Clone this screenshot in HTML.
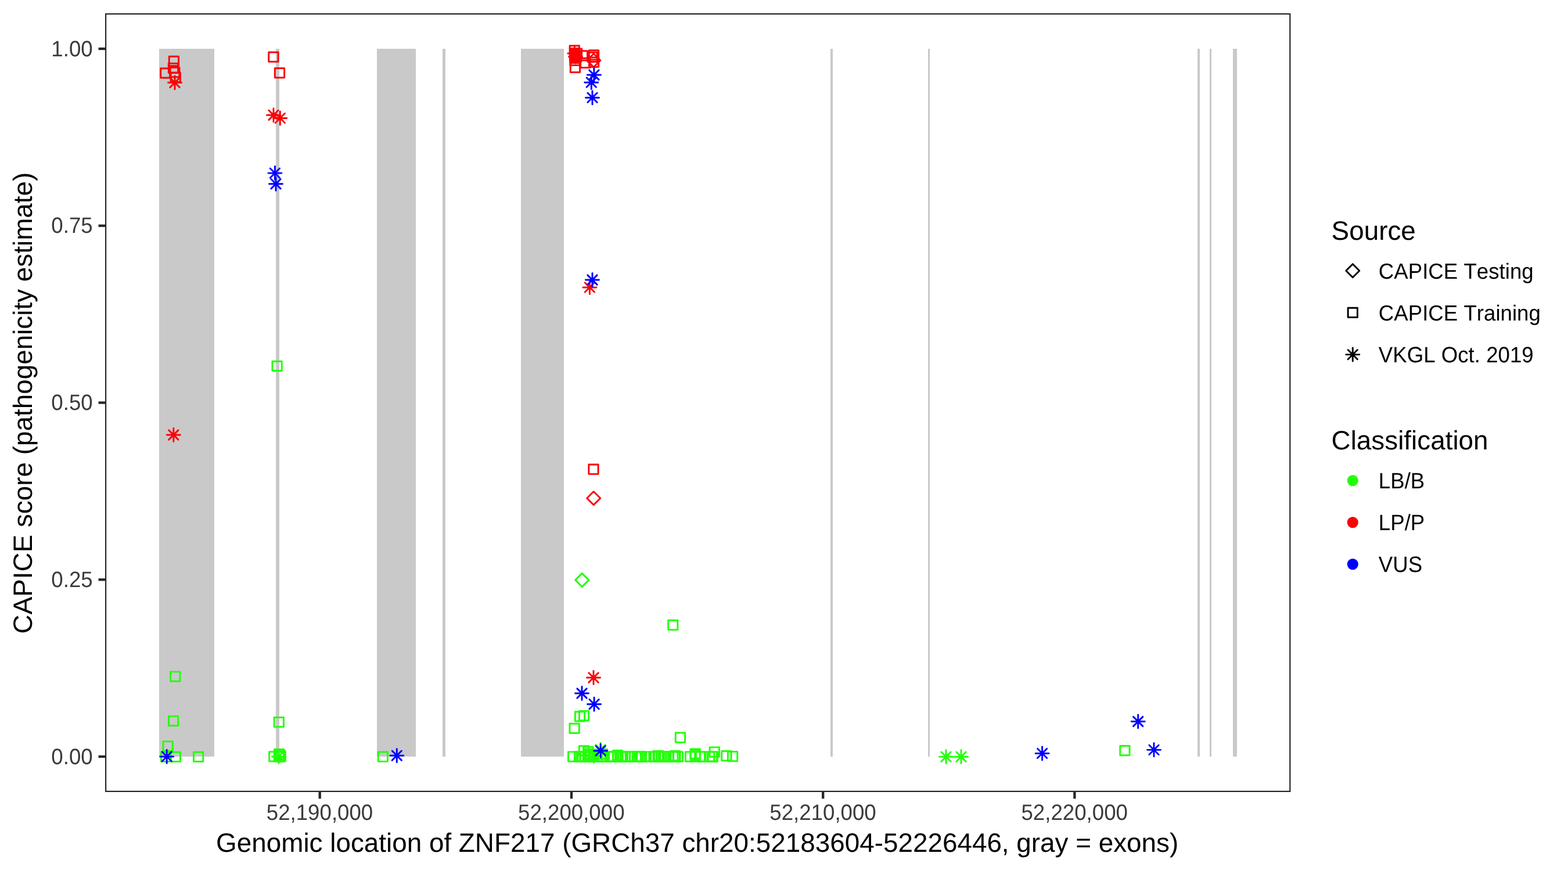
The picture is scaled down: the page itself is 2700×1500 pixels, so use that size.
<!DOCTYPE html>
<html lang="en"><head><meta charset="utf-8">
<title>CAPICE score by genomic location of ZNF217</title>
<style>
html,body{margin:0;padding:0;background:#fff;}
body{width:2700px;height:1500px;}
svg{display:block;}
text{font-family:"Liberation Sans",Arial,Helvetica,sans-serif;font-kerning:none;font-variant-ligatures:none;text-rendering:geometricPrecision;}
.tk{font-size:36.67px;fill:#3B3B3B;}
.ti{font-size:45.83px;fill:#000;}
.lg{font-size:36.67px;fill:#000;}
.pt{fill:none;stroke-width:2.95;stroke-linejoin:round;stroke-linecap:round;}
</style></head><body>
<svg width="2700" height="1500" viewBox="0 0 2700 1500">
<rect width="2700" height="1500" fill="#fff"/>
<g fill="#C9C9C9" shape-rendering="crispEdges">
<rect x="274" y="84" width="95" height="1219"/>
<rect x="475" y="84" width="6" height="1219"/>
<rect x="649" y="84" width="67" height="1219"/>
<rect x="762" y="84" width="5" height="1219"/>
<rect x="897" y="84" width="74" height="1219"/>
<rect x="1430" y="84" width="4" height="1219"/>
<rect x="1598" y="84" width="3" height="1219"/>
<rect x="2062" y="84" width="4" height="1219"/>
<rect x="2083" y="84" width="3" height="1219"/>
<rect x="2123" y="84" width="7" height="1219"/>
</g>
<g class="pt">
<rect x="293.66" y="1156.86" width="16.29" height="16.29" stroke="#23FF09"/>
<rect x="290.46" y="1233.36" width="16.29" height="16.29" stroke="#23FF09"/>
<rect x="280.96" y="1276.86" width="16.29" height="16.29" stroke="#23FF09"/>
<rect x="277.46" y="1295.26" width="16.29" height="16.29" stroke="#23FF09"/>
<rect x="294.16" y="1295.26" width="16.29" height="16.29" stroke="#23FF09"/>
<rect x="333.46" y="1295.26" width="16.29" height="16.29" stroke="#23FF09"/>
<rect x="276.75" y="117.76" width="16.29" height="16.29" stroke="#FB0207"/>
<rect x="291.25" y="97.26" width="16.29" height="16.29" stroke="#FB0207"/>
<rect x="290.36" y="109.16" width="16.29" height="16.29" stroke="#FB0207"/>
<rect x="292.66" y="116.36" width="16.29" height="16.29" stroke="#FB0207"/>
<rect x="294.06" y="125.05" width="16.29" height="16.29" stroke="#FB0207"/>
<path d="M289.48 142.2H312.52M301 130.68V153.72M292.86 134.05L309.14 150.34M292.86 150.34L309.14 134.05" stroke="#FB0207"/>
<path d="M287.33 749H310.37M298.85 737.48V760.52M290.71 740.86L307 757.14M290.71 757.14L307 740.86" stroke="#FB0207"/>
<path d="M275.68 1302.9H298.72M287.2 1291.38V1314.42M279.06 1294.76L295.34 1311.05M279.06 1311.05L295.34 1294.76" stroke="#0000FF"/>
<rect x="462.75" y="89.95" width="16.29" height="16.29" stroke="#FB0207"/>
<rect x="473.36" y="117.45" width="16.29" height="16.29" stroke="#FB0207"/>
<path d="M459.48 198.2H482.52M471 186.68V209.72M462.86 190.05L479.14 206.34M462.86 206.34L479.14 190.05" stroke="#FB0207"/>
<path d="M470.78 203.4H493.82M482.3 191.88V214.92M474.16 195.25L490.44 211.55M474.16 211.55L490.44 195.25" stroke="#FB0207"/>
<path d="M461.88 298.1H484.92M473.4 286.58V309.62M465.25 289.96L481.54 306.25M465.25 306.25L481.54 289.96" stroke="#0000FF"/>
<path d="M463.48 316.7H486.52M475 305.18V328.22M466.86 308.56L483.14 324.84M466.86 324.84L483.14 308.56" stroke="#0000FF"/>
<rect x="468.96" y="622.15" width="16.29" height="16.29" stroke="#23FF09"/>
<rect x="472.16" y="1235.45" width="16.29" height="16.29" stroke="#23FF09"/>
<rect x="463.61" y="1294.65" width="16.29" height="16.29" stroke="#23FF09"/>
<rect x="472.25" y="1290.56" width="16.29" height="16.29" stroke="#23FF09"/>
<rect x="472.36" y="1294.65" width="16.29" height="16.29" stroke="#23FF09"/>
<rect x="472.86" y="1294.86" width="16.29" height="16.29" stroke="#23FF09"/>
<rect x="473.66" y="1294.45" width="16.29" height="16.29" stroke="#23FF09"/>
<rect x="474.96" y="1294.65" width="16.29" height="16.29" stroke="#23FF09"/>
<rect x="472.66" y="1292.45" width="16.29" height="16.29" stroke="#23FF09"/>
<rect x="474.25" y="1292.76" width="16.29" height="16.29" stroke="#23FF09"/>
<rect x="472.46" y="1291.45" width="16.29" height="16.29" stroke="#23FF09"/>
<rect x="474.56" y="1293.65" width="16.29" height="16.29" stroke="#23FF09"/>
<path d="M468.38 1302.9H491.42M479.9 1291.38V1314.42M471.75 1294.76L488.04 1311.05M471.75 1311.05L488.04 1294.76" stroke="#23FF09"/>
<rect x="651.25" y="1295.06" width="16.29" height="16.29" stroke="#23FF09"/>
<path d="M671.78 1301.2H694.82M683.3 1289.68V1312.72M675.15 1293.06L691.44 1309.35M675.15 1309.35L691.44 1293.06" stroke="#0000FF"/>
<rect x="981.15" y="78.81" width="16.29" height="16.29" stroke="#FB0207"/>
<rect x="981.36" y="83.42" width="16.29" height="16.29" stroke="#FB0207"/>
<rect x="981.56" y="86.16" width="16.29" height="16.29" stroke="#FB0207"/>
<rect x="981.75" y="88.86" width="16.29" height="16.29" stroke="#FB0207"/>
<rect x="981.86" y="92.06" width="16.29" height="16.29" stroke="#FB0207"/>
<rect x="981.96" y="96.06" width="16.29" height="16.29" stroke="#FB0207"/>
<rect x="985.36" y="83.86" width="16.29" height="16.29" stroke="#FB0207"/>
<rect x="984.36" y="89.86" width="16.29" height="16.29" stroke="#FB0207"/>
<rect x="982.25" y="108.2" width="16.29" height="16.29" stroke="#FB0207"/>
<path d="M977.88 92H1000.92M989.4 80.48V103.52M981.25 83.86L997.54 100.14M981.25 100.14L997.54 83.86" stroke="#FB0207"/>
<path d="M979.48 97.7H1002.52M991 86.18V109.22M982.86 89.56L999.14 105.84M982.86 105.84L999.14 89.56" stroke="#FB0207"/>
<rect x="995.25" y="87.66" width="16.29" height="16.29" stroke="#FB0207"/>
<rect x="999.65" y="100.26" width="16.29" height="16.29" stroke="#FB0207"/>
<rect x="1014.46" y="86.76" width="16.29" height="16.29" stroke="#FB0207"/>
<rect x="1011.96" y="90.16" width="16.29" height="16.29" stroke="#FB0207"/>
<rect x="1014.46" y="98.95" width="16.29" height="16.29" stroke="#FB0207"/>
<path d="M1010.78 104L1022.3 92.48L1033.82 104L1022.3 115.52Z" stroke="#FB0207"/>
<path d="M1011.38 129H1034.42M1022.9 117.48V140.52M1014.75 120.86L1031.05 137.15M1014.75 137.15L1031.05 120.86" stroke="#0000FF"/>
<path d="M1006.78 141.9H1029.82M1018.3 130.38V153.42M1010.15 133.75L1026.44 150.05M1010.15 150.05L1026.44 133.75" stroke="#0000FF"/>
<path d="M1008.48 168.15H1031.52M1020 156.63V179.67M1011.86 160L1028.14 176.3M1011.86 176.3L1028.14 160" stroke="#0000FF"/>
<path d="M1003.88 494.9H1026.92M1015.4 483.38V506.42M1007.25 486.75L1023.54 503.04M1007.25 503.04L1023.54 486.75" stroke="#FB0207"/>
<path d="M1008.48 482H1031.52M1020 470.48V493.52M1011.86 473.86L1028.14 490.14M1011.86 490.14L1028.14 473.86" stroke="#0000FF"/>
<rect x="1013.86" y="800.06" width="16.29" height="16.29" stroke="#FB0207"/>
<path d="M1010.68 858L1022.2 846.48L1033.72 858L1022.2 869.52Z" stroke="#FB0207"/>
<path d="M990.68 998.9L1002.2 987.38L1013.72 998.9L1002.2 1010.42Z" stroke="#23FF09"/>
<rect x="1150.65" y="1068.31" width="16.29" height="16.29" stroke="#23FF09"/>
<path d="M1010.48 1167H1033.52M1022 1155.48V1178.52M1013.86 1158.86L1030.14 1175.14M1013.86 1175.14L1030.14 1158.86" stroke="#FB0207"/>
<path d="M990.48 1194H1013.52M1002 1182.48V1205.52M993.86 1185.86L1010.14 1202.14M993.86 1202.14L1010.14 1185.86" stroke="#0000FF"/>
<path d="M1011.58 1212.7H1034.62M1023.1 1201.18V1224.22M1014.96 1204.56L1031.25 1220.85M1014.96 1220.85L1031.25 1204.56" stroke="#0000FF"/>
<rect x="990.36" y="1225.65" width="16.29" height="16.29" stroke="#23FF09"/>
<rect x="997.36" y="1224.36" width="16.29" height="16.29" stroke="#23FF09"/>
<rect x="980.96" y="1246.2" width="16.29" height="16.29" stroke="#23FF09"/>
<rect x="978.48" y="1294.86" width="16.29" height="16.29" stroke="#23FF09"/>
<rect x="989.43" y="1294.86" width="16.29" height="16.29" stroke="#23FF09"/>
<rect x="989.88" y="1294.86" width="16.29" height="16.29" stroke="#23FF09"/>
<rect x="993.02" y="1294.86" width="16.29" height="16.29" stroke="#23FF09"/>
<rect x="998.88" y="1294.86" width="16.29" height="16.29" stroke="#23FF09"/>
<rect x="999.12" y="1294.86" width="16.29" height="16.29" stroke="#23FF09"/>
<rect x="1004.27" y="1294.86" width="16.29" height="16.29" stroke="#23FF09"/>
<rect x="1007.23" y="1294.86" width="16.29" height="16.29" stroke="#23FF09"/>
<rect x="1013.38" y="1294.86" width="16.29" height="16.29" stroke="#23FF09"/>
<rect x="1020.08" y="1294.86" width="16.29" height="16.29" stroke="#23FF09"/>
<rect x="1020.17" y="1294.86" width="16.29" height="16.29" stroke="#23FF09"/>
<rect x="1025.88" y="1294.86" width="16.29" height="16.29" stroke="#23FF09"/>
<rect x="1026.47" y="1294.86" width="16.29" height="16.29" stroke="#23FF09"/>
<rect x="1029.42" y="1294.86" width="16.29" height="16.29" stroke="#23FF09"/>
<rect x="1030.12" y="1294.86" width="16.29" height="16.29" stroke="#23FF09"/>
<rect x="1043.12" y="1294.86" width="16.29" height="16.29" stroke="#23FF09"/>
<rect x="1048.28" y="1294.86" width="16.29" height="16.29" stroke="#23FF09"/>
<rect x="1048.58" y="1294.86" width="16.29" height="16.29" stroke="#23FF09"/>
<rect x="1055.67" y="1294.86" width="16.29" height="16.29" stroke="#23FF09"/>
<rect x="1061.62" y="1294.86" width="16.29" height="16.29" stroke="#23FF09"/>
<rect x="1064.17" y="1294.86" width="16.29" height="16.29" stroke="#23FF09"/>
<rect x="1068.33" y="1294.86" width="16.29" height="16.29" stroke="#23FF09"/>
<rect x="1068.47" y="1294.86" width="16.29" height="16.29" stroke="#23FF09"/>
<rect x="1077.17" y="1294.86" width="16.29" height="16.29" stroke="#23FF09"/>
<rect x="1080.38" y="1294.86" width="16.29" height="16.29" stroke="#23FF09"/>
<rect x="1089.42" y="1294.86" width="16.29" height="16.29" stroke="#23FF09"/>
<rect x="1092.38" y="1294.86" width="16.29" height="16.29" stroke="#23FF09"/>
<rect x="1095.33" y="1294.86" width="16.29" height="16.29" stroke="#23FF09"/>
<rect x="1096.17" y="1294.86" width="16.29" height="16.29" stroke="#23FF09"/>
<rect x="1103.28" y="1294.86" width="16.29" height="16.29" stroke="#23FF09"/>
<rect x="1117.83" y="1294.86" width="16.29" height="16.29" stroke="#23FF09"/>
<rect x="1120.38" y="1294.86" width="16.29" height="16.29" stroke="#23FF09"/>
<rect x="1125.33" y="1294.86" width="16.29" height="16.29" stroke="#23FF09"/>
<rect x="1126.53" y="1294.86" width="16.29" height="16.29" stroke="#23FF09"/>
<rect x="1130.62" y="1294.86" width="16.29" height="16.29" stroke="#23FF09"/>
<rect x="1130.67" y="1294.86" width="16.29" height="16.29" stroke="#23FF09"/>
<rect x="1136.83" y="1294.86" width="16.29" height="16.29" stroke="#23FF09"/>
<rect x="1142.88" y="1294.86" width="16.29" height="16.29" stroke="#23FF09"/>
<rect x="1143.28" y="1294.86" width="16.29" height="16.29" stroke="#23FF09"/>
<rect x="1150.72" y="1294.86" width="16.29" height="16.29" stroke="#23FF09"/>
<rect x="1153.88" y="1294.86" width="16.29" height="16.29" stroke="#23FF09"/>
<rect x="1154.38" y="1294.86" width="16.29" height="16.29" stroke="#23FF09"/>
<rect x="997.25" y="1284.76" width="16.29" height="16.29" stroke="#23FF09"/>
<rect x="1004.86" y="1286.15" width="16.29" height="16.29" stroke="#23FF09"/>
<rect x="1004.86" y="1289.86" width="16.29" height="16.29" stroke="#23FF09"/>
<rect x="1004.46" y="1291.95" width="16.29" height="16.29" stroke="#23FF09"/>
<rect x="1029.06" y="1290.56" width="16.29" height="16.29" stroke="#23FF09"/>
<rect x="1055.56" y="1292.45" width="16.29" height="16.29" stroke="#23FF09"/>
<rect x="1125.15" y="1293.36" width="16.29" height="16.29" stroke="#23FF09"/>
<rect x="1154.76" y="1293.36" width="16.29" height="16.29" stroke="#23FF09"/>
<rect x="1163.26" y="1262.06" width="16.29" height="16.29" stroke="#23FF09"/>
<rect x="1159.36" y="1294.86" width="16.29" height="16.29" stroke="#23FF09"/>
<rect x="1180.36" y="1294.86" width="16.29" height="16.29" stroke="#23FF09"/>
<rect x="1189.01" y="1289.86" width="16.29" height="16.29" stroke="#23FF09"/>
<rect x="1189.06" y="1292.36" width="16.29" height="16.29" stroke="#23FF09"/>
<rect x="1197.45" y="1294.86" width="16.29" height="16.29" stroke="#23FF09"/>
<rect x="1198.36" y="1294.86" width="16.29" height="16.29" stroke="#23FF09"/>
<rect x="1213.45" y="1294.86" width="16.29" height="16.29" stroke="#23FF09"/>
<rect x="1218.26" y="1294.86" width="16.29" height="16.29" stroke="#23FF09"/>
<rect x="1219.26" y="1294.86" width="16.29" height="16.29" stroke="#23FF09"/>
<rect x="1222.15" y="1286.86" width="16.29" height="16.29" stroke="#23FF09"/>
<rect x="1242.76" y="1293.56" width="16.29" height="16.29" stroke="#23FF09"/>
<rect x="1253.36" y="1294.45" width="16.29" height="16.29" stroke="#23FF09"/>
<path d="M1010.88 1302H1033.92M1022.4 1290.48V1313.52M1014.25 1293.86L1030.55 1310.14M1014.25 1310.14L1030.55 1293.86" stroke="#23FF09"/>
<path d="M1022.48 1291H1045.52M1034 1279.48V1302.52M1025.86 1282.86L1042.14 1299.14M1025.86 1299.14L1042.14 1282.86" stroke="#23FF09"/>
<path d="M1022.68 1292.9H1045.72M1034.2 1281.38V1304.42M1026.06 1284.76L1042.35 1301.05M1026.06 1301.05L1042.35 1284.76" stroke="#0000FF"/>
<path d="M1617.48 1303.2H1640.52M1629 1291.68V1314.72M1620.86 1295.06L1637.14 1311.35M1620.86 1311.35L1637.14 1295.06" stroke="#23FF09"/>
<path d="M1643.48 1303.2H1666.52M1655 1291.68V1314.72M1646.86 1295.06L1663.14 1311.35M1646.86 1311.35L1663.14 1295.06" stroke="#23FF09"/>
<path d="M1783.08 1297.4H1806.12M1794.6 1285.88V1308.92M1786.45 1289.26L1802.74 1305.55M1786.45 1305.55L1802.74 1289.26" stroke="#0000FF"/>
<rect x="1928.76" y="1284.45" width="16.29" height="16.29" stroke="#23FF09"/>
<path d="M1948.18 1242.5H1971.22M1959.7 1230.98V1254.02M1951.56 1234.36L1967.85 1250.64M1951.56 1250.64L1967.85 1234.36" stroke="#0000FF"/>
<path d="M1975.48 1291.35H1998.52M1987 1279.83V1302.87M1978.86 1283.2L1995.14 1299.49M1978.86 1299.49L1995.14 1283.2" stroke="#0000FF"/>
</g>
<rect x="182.1" y="24" width="2039.2" height="1338.9" fill="none" stroke="#262626" stroke-width="2.2"/>
<g stroke="#262626" stroke-width="4.3">
<path d="M169.54 84H181"/>
<path d="M169.54 388.75H181"/>
<path d="M169.54 693.5H181"/>
<path d="M169.54 998.25H181"/>
<path d="M169.54 1303H181"/>
<path d="M550.7 1364V1375.46"/>
<path d="M984 1364V1375.46"/>
<path d="M1417.2 1364V1375.46"/>
<path d="M1850.4 1364V1375.46"/>
</g>
<text class="tk" transform="translate(159.7 96.7) scale(1 1.042)" text-anchor="end">1.00</text>
<text class="tk" transform="translate(159.7 401.45) scale(1 1.042)" text-anchor="end">0.75</text>
<text class="tk" transform="translate(159.7 706.2) scale(1 1.042)" text-anchor="end">0.50</text>
<text class="tk" transform="translate(159.7 1010.95) scale(1 1.042)" text-anchor="end">0.25</text>
<text class="tk" transform="translate(159.7 1315.7) scale(1 1.042)" text-anchor="end">0.00</text>
<text class="tk" transform="translate(550.5 1412.2) scale(1 1.042)" text-anchor="middle">52,190,000</text>
<text class="tk" transform="translate(983.8 1412.2) scale(1 1.042)" text-anchor="middle">52,200,000</text>
<text class="tk" transform="translate(1417 1412.2) scale(1 1.042)" text-anchor="middle">52,210,000</text>
<text class="tk" transform="translate(1850.2 1412.2) scale(1 1.042)" text-anchor="middle">52,220,000</text>
<text class="ti" x="1200.7" y="1467.2" text-anchor="middle">Genomic location of ZNF217 (GRCh37 chr20:52183604-52226446, gray = exons)</text>
<text class="ti" transform="translate(55 694.05) rotate(-90)" text-anchor="middle">CAPICE score (pathogenicity estimate)</text>
<text class="ti" x="2292.6" y="412.5">Source</text>
<g class="pt">
<path d="M2317.78 466.2L2329.3 454.68L2340.82 466.2L2329.3 477.72Z" stroke="#000"/>
<rect x="2321.16" y="530.25" width="16.29" height="16.29" stroke="#000"/>
<path d="M2317.78 610.6H2340.82M2329.3 599.08V622.12M2321.16 602.46L2337.45 618.75M2321.16 618.75L2337.45 602.46" stroke="#000"/>
</g>
<text class="lg" transform="translate(2373.8 480.2) scale(1 1.03)">CAPICE Testing</text>
<text class="lg" transform="translate(2373.8 552.4) scale(1 1.03)">CAPICE Training</text>
<text class="lg" transform="translate(2373.8 624.4) scale(1 1.042)">VKGL Oct. 2019</text>
<text class="ti" x="2292.6" y="774.4">Classification</text>
<circle cx="2329.3" cy="827.6" r="9.6" fill="#23FF09"/>
<circle cx="2329.3" cy="899.6" r="9.6" fill="#FB0207"/>
<circle cx="2329.3" cy="971.6" r="9.6" fill="#0000FF"/>
<text class="lg" transform="translate(2373.8 841.4) scale(1 1.042)">LB/B</text>
<text class="lg" transform="translate(2373.8 913.4) scale(1 1.042)">LP/P</text>
<text class="lg" transform="translate(2373.8 985.4) scale(1 1.042)">VUS</text>
</svg>
</body></html>
